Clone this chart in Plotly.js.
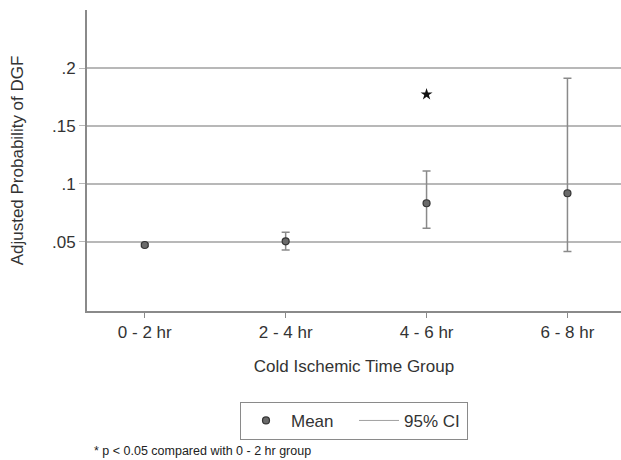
<!DOCTYPE html>
<html>
<head>
<meta charset="utf-8">
<script src="https://cdn.plot.ly/plotly-3.0.1.min.js"></script>
<style>html,body{margin:0;padding:0;background:#fff;}#chart{width:621px;height:460px;}</style>
</head>
<body>
<div id="chart"></div>
<script>
var groups = ['0 - 2 hr', '2 - 4 hr', '4 - 6 hr', '6 - 8 hr'];
var meanProb = [0.0474, 0.0506, 0.0834, 0.0920];
var ciLower = [0.0462, 0.0431, 0.0618, 0.0417];
var ciUpper = [0.0486, 0.0584, 0.1112, 0.1911];
var sigGroups = ['4 - 6 hr'];
var sigY = [0.1773];
var yTickVals = [0.05, 0.1, 0.15, 0.2];
var yTickText = ['.05', '.1', '.15', '.2'];

var errPlus = meanProb.map(function(m, i){ return ciUpper[i] - m; });
var errMinus = meanProb.map(function(m, i){ return m - ciLower[i]; });

var font = 'Arial, "Liberation Sans", sans-serif';

var traces = [
  {
    x: groups, y: meanProb, type: 'scatter', mode: 'markers', name: 'Mean',
    marker: {color: '#6a6a6a', size: 7, line: {color: '#333333', width: 1.2}},
    error_y: {type: 'data', symmetric: false, array: errPlus, arrayminus: errMinus,
              color: '#8a8a8a', thickness: 1.5, width: 4},
    showlegend: true
  },
  {
    x: [null], y: [null], type: 'scatter', mode: 'lines', name: '95% CI',
    line: {color: '#a0a0a0', width: 1}, showlegend: true
  },
  {
    x: sigGroups, y: sigY, type: 'scatter', mode: 'markers', name: 'sig',
    marker: {symbol: 'star', color: '#111111', size: 9},
    showlegend: false, hoverinfo: 'skip'
  }
];

var layout = {
  width: 621, height: 460,
  margin: {l: 87, r: 0, t: 10, b: 149},
  paper_bgcolor: '#ffffff', plot_bgcolor: '#ffffff',
  font: {family: font, color: '#333333', size: 16},
  xaxis: {
    type: 'category', range: [-0.41, 3.38],
    showgrid: false, zeroline: false,
    showline: true, linecolor: '#8a8a8a', linewidth: 2,
    ticks: 'outside', ticklen: 5, tickcolor: '#8a8a8a', tickwidth: 1,
    tickfont: {size: 17, color: '#333333'},
    title: {text: 'Cold Ischemic Time Group', font: {size: 17, color: '#333333'}, standoff: 19}
  },
  yaxis: {
    range: [-0.0095, 0.25],
    tickvals: yTickVals, ticktext: yTickText,
    showgrid: true, gridcolor: '#b8b8b8', gridwidth: 1.2,
    zeroline: false,
    showline: true, linecolor: '#8a8a8a', linewidth: 2,
    ticks: 'outside', ticklen: 6, tickcolor: '#b8b8b8', tickwidth: 1,
    tickfont: {size: 17, color: '#333333'},
    title: {text: 'Adjusted Probability of DGF', font: {size: 17, color: '#333333'}, standoff: 24}
  },
  legend: {
    orientation: 'h', x: 0.5, xanchor: 'center', y: -0.302, yanchor: 'top',
    bordercolor: '#8a8a8a', borderwidth: 1, bgcolor: '#ffffff',
    font: {size: 17, color: '#333333'},
    entrywidth: 58, itemwidth: 40
  },
  annotations: [
    {xref: 'paper', yref: 'paper', x: 0.009, y: -0.465, xanchor: 'left', yanchor: 'middle',
     text: '* p < 0.05 compared with 0 - 2 hr group', showarrow: false,
     font: {size: 12.5, color: '#222222'}}
  ],
  showlegend: true
};

Plotly.newPlot('chart', traces, layout, {displayModeBar: false, staticPlot: true});
</script>
</body>
</html>
